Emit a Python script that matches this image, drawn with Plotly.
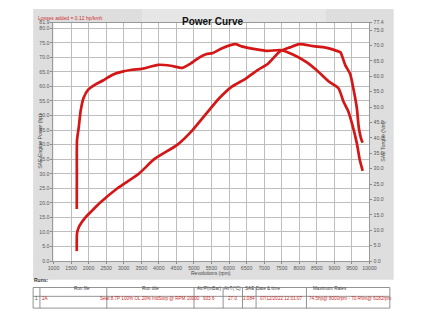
import plotly.graph_objects as go

# ---------------- data ----------------
torque_rpm = [1663, 1665, 1670, 1718, 1773, 1856, 1994, 2187, 2408, 2684, 2960, 3236, 3512,
              3982, 4341, 4672, 4893, 5169, 5362, 5528, 5804, 6182, 6356, 6743, 7102, 7460,
              7847, 8206, 8482, 8841, 9117, 9255, 9393, 9503, 9641, 9724, 9807]
torque_nm = [16.9, 28.0, 39.2, 43.3, 48.7, 52.9, 55.7, 57.3, 58.6, 60.5, 61.5, 62.1, 62.4,
             63.7, 63.4, 62.7, 64.0, 66.2, 67.2, 67.5, 69.1, 70.4, 69.7, 68.8, 68.2, 68.5,
             66.9, 64.6, 62.1, 58.3, 56.1, 51.9, 48.7, 44.6, 38.2, 32.8, 29.3]

power_rpm = [1663, 1663, 1670, 1720, 1800, 1911, 2100, 2325, 2822, 3430, 3870, 4534, 4948,
             5362, 5721, 6080, 6467, 6825, 7102, 7460, 7736, 8000, 8400, 8750, 9089, 9172,
             9310, 9448, 9531, 9641, 9696, 9779, 9807]
power_hp = [3.4, 6.7, 9.5, 11.6, 13.2, 15.0, 17.3, 20.0, 25.0, 30.0, 35.0, 40.0, 44.8,
            50.8, 55.9, 59.9, 62.6, 65.7, 67.7, 72.1, 73.4, 74.5, 73.8, 73.3, 72.1, 71.7,
            67.3, 64.3, 59.9, 52.5, 45.8, 41.4, 40.7]

x_ticks = list(range(1000, 10001, 500))
left_ticks = [0, 5, 10, 15, 20, 25, 30, 35, 40, 45, 50, 55, 60, 65, 70, 75, 80, 81.9]
right_ticks = [0, 5, 10, 15, 20, 25, 30, 35, 40, 45, 50, 55, 60, 65, 70, 75, 77.4]

title_text = "Power Curve"
losses_text = "Losses added = 0.12 hp/kmh"
x_title = "Revolutions (rpm)"
left_title = "SAE Engine Power (hp)"
right_title = "SAE Torque (Nm)"

table_header = ["", "Run file", "Run title", "Air/P(mBar)", "AirT(°C)", "SAE", "Date & time", "Maximum Rates"]
table_row = ["1", "2A", "Seat 8.7P 100% OL 20% IndStop @ RPM 10000", "933.6", "27.0", "1.084",
             "07/12/2022 12:01:07", "74.5hp@ 8000rpm - 70.4Nm@ 6182rpm"]

# ---------------- layout helpers ----------------
W, H = 423, 317
def px(x):
    return x / W
def py(y):
    return 1 - y / H

RED = "#d41616"
FONT = "Liberation Sans"
TICKF = dict(family=FONT, size=5.2, color="#5a5a5a")

fig = go.Figure()
fig.add_trace(go.Scatter(x=power_rpm, y=power_hp, mode="lines", yaxis="y",
                         line=dict(color=RED, width=2.7, shape="spline", smoothing=0.6),
                         showlegend=False, hoverinfo="skip"))
fig.add_trace(go.Scatter(x=torque_rpm, y=torque_nm, mode="lines", yaxis="y2",
                         line=dict(color=RED, width=2.7, shape="spline", smoothing=0.6),
                         showlegend=False, hoverinfo="skip"))

grid = "#bdbdbd"
fig.update_layout(
    width=W, height=H,
    margin=dict(l=0, r=0, t=0, b=0),
    paper_bgcolor="white", plot_bgcolor="rgba(0,0,0,0)",
    showlegend=False,
    xaxis=dict(domain=[px(49), px(375)], range=[1000, 10000], tickvals=x_ticks,
               ticktext=[str(v) for v in x_ticks], showgrid=True, gridcolor=grid, gridwidth=1,
               ticks="outside", ticklen=2, tickcolor="#888", tickfont=TICKF,
               showline=True, linecolor="#999", linewidth=1, mirror=True, zeroline=False),
    yaxis=dict(domain=[py(263), py(20)], range=[0, 81.9], tickvals=left_ticks,
               ticktext=[f"{v:.1f}" for v in left_ticks], showgrid=True, gridcolor=grid,
               ticks="outside", ticklen=2, tickcolor="#888", tickfont=TICKF,
               showline=True, linecolor="#999", linewidth=1, mirror=True, zeroline=False),
    yaxis2=dict(overlaying="y", side="right", range=[0, 77.4], tickvals=right_ticks,
                ticktext=[f"{v:.1f}" for v in right_ticks], showgrid=False,
                ticks="outside", ticklen=2, tickcolor="#888", tickfont=TICKF,
                zeroline=False, anchor="x"),
)

shapes = []
# grey frame behind chart
shapes.append(dict(type="rect", xref="paper", yref="paper", x0=px(28), x1=px(400),
                   y0=py(282), y1=py(6), fillcolor="#dedede", line=dict(width=0), layer="below"))
shapes.append(dict(type="rect", xref="paper", yref="paper", x0=px(140), x1=px(330),
                   y0=py(20), y1=py(6), fillcolor="#e6e6e6", line=dict(width=0), layer="below"))
# white plotting area
shapes.append(dict(type="rect", xref="paper", yref="paper", x0=px(49), x1=px(375),
                   y0=py(263), y1=py(20), fillcolor="white", line=dict(width=0), layer="below"))

# table
col_x = [28, 35, 104, 194, 224, 244, 258, 310, 396]
row_y = [290, 299, 311]
lc = "#777777"
for y in row_y:
    shapes.append(dict(type="line", xref="paper", yref="paper", x0=px(col_x[0]), x1=px(col_x[-1]),
                       y0=py(y), y1=py(y), line=dict(color=lc, width=0.8)))
for x in col_x:
    shapes.append(dict(type="line", xref="paper", yref="paper", x0=px(x), x1=px(x),
                       y0=py(row_y[0]), y1=py(row_y[-1]), line=dict(color=lc, width=0.8)))
fig.update_layout(shapes=shapes)

ann = []
ann.append(dict(text="<b>" + title_text + "</b>", x=px(214), y=py(11.5), xref="paper", yref="paper",
                showarrow=False, font=dict(family=FONT, size=10, color="#111")))
ann.append(dict(text=losses_text, x=px(31), y=py(10), xref="paper", yref="paper", xanchor="left",
                showarrow=False, font=dict(family=FONT, size=5, color="#d03030")))
ann.append(dict(text=x_title, x=px(212), y=py(279.5), xref="paper", yref="paper", borderpad=0,
                showarrow=False, font=dict(family=FONT, size=5, color="#444")))
ann.append(dict(text=left_title, x=px(31.5), y=py(141), xref="paper", yref="paper", textangle=-90,
                borderpad=0, showarrow=False, font=dict(family=FONT, size=5.2, color="#444")))
ann.append(dict(text=right_title, x=px(393.5), y=py(141), xref="paper", yref="paper", textangle=-90,
                borderpad=0, showarrow=False, font=dict(family=FONT, size=5.2, color="#444")))
ann.append(dict(text="<b>Runs:</b>", x=px(28), y=py(286), xref="paper", yref="paper", xanchor="left",
                borderpad=0, showarrow=False, font=dict(family=FONT, size=5, color="#333")))
for i, t in enumerate(table_header):
    cx = (col_x[i] + col_x[i + 1]) / 2
    ann.append(dict(text=t, x=px(cx), y=py(294.5), xref="paper", yref="paper", borderpad=0,
                    showarrow=False, font=dict(family=FONT, size=4.6, color="#444")))
for i, t in enumerate(table_row):
    if i in (1, 7):
        x, xa = px(col_x[i] + 1.5), "left"
    else:
        x, xa = px((col_x[i] + col_x[i + 1]) / 2), "center"
    color = "#444" if i == 0 else "#cc2a2a"
    ann.append(dict(text=t, x=x, y=py(305), xref="paper", yref="paper", xanchor=xa, borderpad=0,
                    showarrow=False, font=dict(family=FONT, size=4.6, color=color)))
fig.update_layout(annotations=ann)

fig.write_html("out.html")
